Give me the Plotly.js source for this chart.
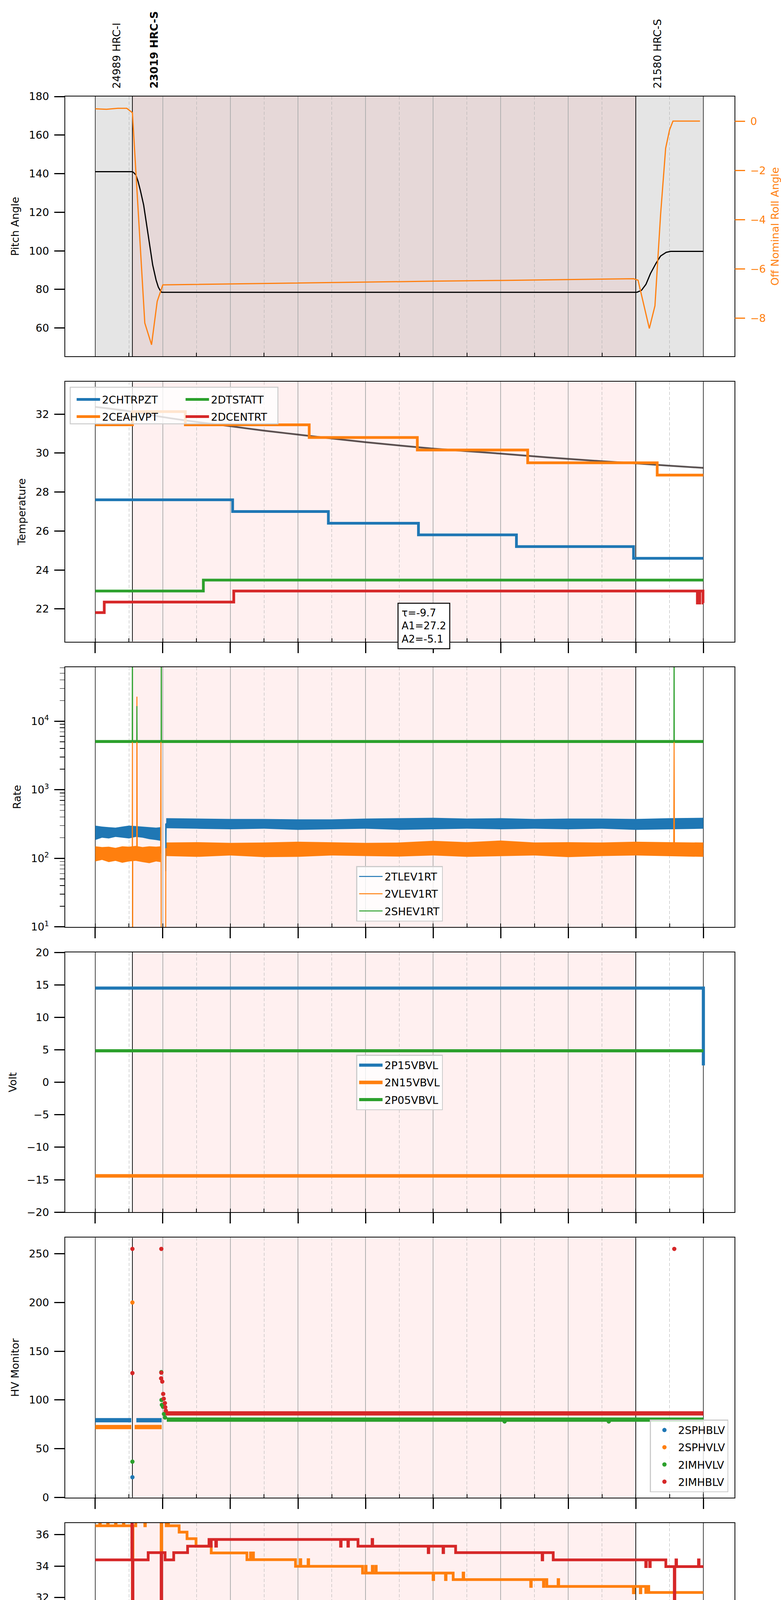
<!DOCTYPE html>
<html><head><meta charset="utf-8">
<script src="https://cdn.plot.ly/plotly-3.0.1.min.js"></script>
<style>html,body{margin:0;padding:0;background:#fff}</style>
</head><body>
<div id="chart" style="width:2000px;height:5400px"></div>
<script>
// ---------------- DATA ----------------
const DAY = '2021-04-05 ';
const hourRange = ['04:33:20', '14:27:40'];
const halfHourTicks = ['05:30','06:30','07:30','08:30','09:30','10:30','11:30','12:30','13:30'];
const halfHourText = '30';

// observations
const obsStart = ['05:00', '05:33', '13:00'];
const obsStop  = ['05:33', '13:00', '14:00'];
const obsLabel = ['24989 HRC-I', '<b>23019 HRC-S</b>', '21580 HRC-S'];
const obsFocus = [false, true, false];

// panel 1: pitch (left) & off nominal roll (right)
const pitch = [['05:00',141],['05:33',141],['05:34',140.6],['05:36',139.4],['05:38',136],['05:40',131.5],['05:43',123.7],['05:45',116],['05:47',108.2],['05:49',100.5],['05:51',92.7],['05:54',84.9],['05:56',81.2],['05:57:30',79.6],['05:59',78.5],['13:01',78.5],['13:05',79.5],['13:09',82.6],['13:13',88.2],['13:18',93.6],['13:22',97.3],['13:27',99.2],['13:31',99.7],['14:00',99.7]];
const roll = [['05:00',0.5],['05:10',0.48],['05:20',0.52],['05:28',0.52],['05:33',0.34],['05:44',-8.2],['05:50',-9.08],['05:55',-7.32],['06:00',-6.65],['07:00',-6.61],['08:00',-6.58],['09:00',-6.54],['10:00',-6.5],['11:00',-6.47],['12:00',-6.43],['12:58',-6.4],['13:02',-6.46],['13:12',-8.42],['13:17',-7.5],['13:22',-3.8],['13:26:30',-1.1],['13:30',-0.35],['13:33',0.0],['13:57',0.0]];

// panel 2: temperature
const fitCurve = [['05:00',32.37],['05:30',32.15],['06:00',31.85],['06:30',31.6],['07:00',31.38],['07:30',31.15],['08:00',30.95],['08:30',30.75],['09:00',30.56],['09:30',30.39],['10:00',30.23],['10:30',30.1],['11:00',29.97],['11:30',29.83],['12:00',29.7],['12:30',29.58],['13:00',29.47],['13:30',29.35],['14:00',29.24]];
const fitText = 'τ=-9.7<br>A1=27.2<br>A2=-5.1';
const chtrpzt = [['05:00',27.6],['07:02',27.0],['08:27',26.4],['09:47',25.8],['11:14',25.2],['12:58',24.6],['14:00',24.6]];
const ceahvpt = [['05:00',31.45],['05:33',32.13],['06:20',31.45],['08:10',30.8],['09:46',30.16],['11:24',29.5],['13:19',28.87],['14:00',28.87]];
const dtstatt = [['05:00',22.92],['06:36',23.48],['14:00',23.48]];
const dcentrt = [['05:00',21.81],['05:08',22.35],['07:03',22.92],['13:54:40',22.3],['13:56:50',22.92],['13:59:40',22.3],['14:00',22.3]];

// panel 3: rates (noise band envelopes [time, low, high] + centre line with spikes)
const tlevBandA = [['05:00',185,300],['05:06',200,290],['05:12',195,285],['05:18',205,280],['05:24',200,290],['05:30',195,300],['05:36',205,295],['05:42',200,290],['05:48',190,285],['05:54',185,280],['05:58',180,285]];
const tlevBandB = [['06:03',275,385],['06:30',270,380],['07:00',265,375],['07:30',270,375],['08:00',260,370],['08:30',265,370],['09:00',270,380],['09:30',260,385],['10:00',265,390],['10:30',270,380],['11:00',265,385],['11:30',270,375],['12:00',265,380],['12:30',270,380],['13:00',260,375],['13:30',265,385],['14:00',270,390]];
const vlevBandA = [['05:00',90,150],['05:06',95,146],['05:12',88,148],['05:18',92,142],['05:24',86,150],['05:30',90,148],['05:36',92,152],['05:42',88,146],['05:48',85,150],['05:54',90,148],['05:58',88,150]];
const vlevBandB = [['06:03',108,170],['06:30',105,172],['07:00',110,168],['07:30',104,170],['08:00',105,175],['08:30',110,172],['09:00',108,168],['09:30',106,170],['10:00',110,180],['10:30',105,172],['11:00',108,182],['11:30',110,170],['12:00',104,172],['12:30',108,170],['13:00',110,175],['13:30',107,172],['14:00',105,170]];
const shevBand = [['05:00',4800,5300],['07:00',4800,5300],['09:00',4800,5300],['11:00',4800,5300],['13:00',4800,5300],['14:00',4800,5300]];
const tlev1rt = [['05:00',235],['05:57:50',235],['05:58:10',190],['05:58:20',null],['06:02:30',320],['06:02:40',65],['06:03:00',320],['14:00',320]];
const vlev1rt = [['05:00',120],['05:32:50',120],['05:33:00',5000],['05:33:10',1],['05:33:20',120],['05:36:50',120],['05:37:00',22700],['05:37:20',120],['05:58:00',120],['05:58:20',5000],['05:58:40',1],['06:02:30',1],['06:02:40',138],['13:33:40',138],['13:34:00',5000],['13:34:20',138],['14:00',138]];
const shev1rt = [['05:00',5050],['05:32:50',5050],['05:33:00',1e6],['05:33:10',5050],['05:36:50',5050],['05:37:00',16600],['05:37:10',5050],['05:58:30',5050],['05:58:40',1e6],['05:58:50',5050],['13:33:50',5050],['13:34:00',1e6],['13:34:10',5050],['14:00',5050]];

// panel 4: volts
const p15vbvl = [['05:00',14.5],['13:59:40',14.5],['14:00',2.6]];
const n15vbvl = [['05:00',-14.4],['14:00',-14.4]];
const p05vbvl = [['05:00',4.85],['14:00',4.85]];

// panel 5: HV monitor (continuous runs + individual points)
const sphblvRun = [['05:00',79.3],['05:32',79.3],[null,null],['05:36:30',79.3],['05:59',79.3]];
const sphvlvRun = [['05:00',72.3],['05:32',72.3],[null,null],['05:35',72.3],['05:59',72.3]];
const imhvlvRun = [['06:03:30',79.9],['14:00',79.9]];
const imhblvRun = [['06:02:30',86.3],['14:00',86.3]];
const sphblvPts = [['05:33',20.8]];
const sphvlvPts = [['05:33',200]];
const imhvlvPts = [['05:33',36.8],['05:58:40',128.6],['05:58:50',100],['05:59:10',95],['06:00:10',93],['06:01:00',85.7],['06:02:00',82],['11:03:30',78],['12:36:00',78]];
const imhblvPts = [['05:33',254.9],['05:33',127.6],['05:58:40',254.9],['05:58:40',128],['05:58:30',122.2],['05:59:30',118.9],['06:00:20',106.2],['06:00:50',101.3],['06:01:50',96.8],['06:02:10',92.6],['06:02:40',89],['13:34:10',254.9]];

// panel 6: detector temperatures
const spinatm = [['05:00',21.7],['14:00',21.7]];
const sphvatm = [['05:00',36.57],['05:04',37],['05:04:30',36.57],['05:11',37],['05:11:30',36.57],['05:18',37],['05:18:30',36.57],['05:25',37],['05:25:30',36.57],['05:33',10],['05:33:30',36.57],['05:36',37],['05:44',36.57],['05:44:30',37],['05:58:30',34.95],['05:59',37],['06:03',36.57],['06:03:30',37],['06:05',36.57],['06:14:30',36.17],['06:21:30',35.75],['06:29:30',35.27],['06:43',34.84],['07:14:40',34.41],['07:17:50',34.84],['07:18:20',34.41],['07:20',34.84],['07:20:30',34.41],['07:57:50',33.99],['08:02',34.41],['08:02:30',33.99],['08:09',34.41],['08:09:30',33.99],['08:57:20',33.56],['09:00',33.99],['09:00:30',33.56],['09:06',33.99],['09:06:30',33.56],['09:09',33.99],['09:09:30',33.56],['10:00',33.14],['10:00:30',33.56],['10:11',33.14],['10:11:30',33.56],['10:17:50',33.14],['10:26:40',33.56],['10:27:10',33.14],['11:26:40',32.71],['11:27:10',33.14],['11:38',32.71],['11:38:30',33.14],['11:41',32.71],['11:51',33.14],['11:51:30',32.71],['12:57:50',32.3],['12:58:20',32.71],['13:04',32.3],['13:04:30',32.71],['13:08:50',32.32],['13:11',32.71],['13:11:30',32.32],['14:00',32.32]];
const iminatm = [['05:00',22.4],['06:33:20',23.15],['06:40:30',22.4],['06:41:30',23.15],['14:00',23.15]];
const imhvatm = [['05:00',34.4],['05:32:30',40],['05:33',10],['05:33:30',34.4],['05:47',34.86],['05:58:30',10],['05:59',34.86],['06:02',34.4],['06:09:40',34.86],['06:22',35.27],['06:41',35.7],['06:42',35.27],['06:43',35.7],['06:47',35.27],['06:47:40',35.7],['08:37:50',35.27],['08:38:20',35.7],['08:44:20',35.27],['08:44:50',35.7],['08:53:20',35.27],['09:05:50',35.7],['09:06:20',35.27],['09:55:40',34.86],['09:56:10',35.27],['10:08:50',34.86],['10:09:20',35.27],['10:20',34.86],['11:36:50',34.4],['11:37:20',34.86],['11:46:40',34.4],['13:08:50',33.97],['13:09:20',34.4],['13:12:20',33.97],['13:12:50',34.4],['13:26:40',33.97],['13:34:10',10],['13:34:40',33.97],['13:35:40',34.4],['13:36:10',33.97],['13:55:40',34.4],['13:56:10',33.97],['14:00',33.97]];

// panel 7: FEA temperatures
const fhtrmzt = [['05:00',25.8],['06:31',26.39],['06:33:20',25.8],['06:34',26.39],['06:35:40',25.8],['06:36:20',26.39],['06:37:50',25.8],['06:38:30',26.39],['06:41:20',25.8],['06:41:50',26.39],['06:47:40',25.8],['06:48:10',26.39],['06:55:40',25.8],['06:56:10',26.39],['07:16:50',25.8],['07:17:20',26.39],['07:56:20',25.8],['07:56:50',26.39],['08:06:40',25.8],['08:07:10',26.39],['08:17',25.8],['08:18',26.39],['08:19',25.8],['08:20',26.39],['08:21',25.8],['08:22',26.39],['08:23:30',25.8],['08:24:30',26.39],['08:26',25.8],['08:27',26.39],['08:28',25.8],['08:29',26.39],['08:30:30',25.8],['08:31:30',26.39],['08:34:10',25.8],['14:00',25.8]];
const fradpyt = [['05:00',21.28],['05:45:50',21.82],['07:57:50',21.25],['13:29:50',20.73],['13:43:10',20.21],['14:00',20.21]];
const fepratm = [['05:00',26.97],['05:33',35],['05:33:20',15],['05:33:40',26.97],['05:58:40',15],['05:59',26.97],['06:37:50',27.78],['06:39',26.97],['06:40',27.78],['06:43',26.97],['06:44',27.78],['06:52:20',26.97],['06:52:50',27.78],['06:57:50',26.97],['06:58:20',27.78],['08:36',26.97],['08:36:30',27.78],['09:47:40',26.97],['09:48:10',27.78],['10:02',26.97],['10:03',27.78],['10:05',26.97],['10:07',27.78],['10:09',26.97],['10:11',27.78],['10:13',26.97],['10:15',27.78],['10:17',26.97],['10:19',27.78],['10:21',26.97],['10:23',27.78],['10:26:40',26.97],['13:34:10',15],['13:34:30',26.97],['14:00',26.97]];
const fe00atm = [['05:00',24.63],['05:00:50',25.3],['05:01:20',24.63],['05:02:30',24.96],['05:26:40',25.66],['05:27:10',25.3],['05:27:40',24.96],['05:33:20',15],['05:33:50',24.96],['05:58:40',15],['05:59:10',25.28],['06:06:40',24.63],['06:07:10',25.28],['06:13:20',24.25],['06:13:50',25.28],['06:14:40',25.66],['06:15:10',25.28],['06:52:20',24.25],['06:52:50',25.28],['06:54:40',24.96],['06:55:10',25.28],['07:00',24.96],['07:00:30',25.28],['07:05:20',24.63],['07:05:50',25.28],['07:23:40',24.63],['07:24:10',25.28],['07:36:50',25.66],['07:37:20',25.28],['07:55:40',24.96],['07:56:10',25.28],['08:08:50',24.63],['08:09:20',25.28],['08:27:40',24.96],['08:28:10',25.28],['08:31:10',24.96],['08:31:40',25.28],['08:50:10',25.66],['08:50:40',25.28],['08:53:50',26.35],['08:54:20',25.28],['08:56:20',24.96],['08:56:50',25.28],['09:11:10',25.66],['09:11:40',25.28],['09:15:40',24.96],['09:16:10',25.28],['09:31:10',24.96],['09:31:40',25.28],['09:42:40',24.63],['09:43:10',25.28],['09:51:40',26.0],['09:52:10',25.28],['10:05:20',25.66],['10:05:50',25.28],['10:16:20',26.0],['10:16:50',24.96],['10:18:00',25.28],['10:20',24.96],['10:20:30',25.28],['10:30:40',26.0],['10:31:10',25.28],['10:43:10',23.93],['10:43:40',25.28],['10:45:50',24.96],['10:46:40',25.28],['10:47:30',26.0],['10:48',24.96],['10:49',25.28],['10:50:30',24.96],['10:52',25.28],['10:53:30',24.96],['10:55',25.28],['10:56:30',24.96],['10:58:10',25.66],['10:58:40',24.96],['11:00',25.28],['11:01:30',24.96],['11:03',25.28],['11:04:30',24.96],['11:06',25.28],['11:07:30',24.96],['11:09',25.28],['11:11',24.96],['11:14:10',25.28],['11:14:40',24.96],['11:17:50',24.25],['11:18:20',24.96],['11:23:00',26.0],['11:23:30',23.93],['11:24:00',24.96],['11:43:10',26.0],['11:43:40',24.96],['11:51:10',25.28],['11:51:40',24.96],['12:03:10',25.28],['12:03:40',24.96],['12:12:20',24.25],['12:12:50',24.96],['12:14:10',25.28],['12:14:40',24.96],['12:30:10',26.0],['12:30:40',24.96],['12:35:10',24.63],['12:35:40',24.96],['12:59:00',25.28],['12:59:30',24.63],['13:00:00',24.96],['13:03:40',24.63],['13:04:10',24.96],['13:11:40',25.66],['13:12:10',24.96],['13:31:00',26.0],['13:31:30',24.25],['13:32:00',24.96],['13:34:10',15],['13:34:40',24.96],['13:41:20',25.66],['13:41:50',24.25],['13:42:20',24.96],['13:45:20',24.25],['13:45:50',24.96],['13:50:10',25.28],['13:50:40',24.96],['13:57:50',24.63],['14:00',24.63]];

// ---------------- HELPERS ----------------
const C = {blue:'#1f77b4', orange:'#ff7f0e', green:'#2ca02c', red:'#d62728'};
const tx = s => (s === null ? null : DAY + s);
const X = p => p.map(d => tx(d[0]));
const Y = p => p.map(d => d[1]);
const W = 2000, H = 5400, ML = 166.7, MR = 119, MT = 246.6, MB = 106.2;
const PW = W - ML - MR, PH = H - MT - MB;
const STEP = 730.4, PANEL_H = 665.2;
const dom = k => [Math.max(0, 1 - (k*STEP + PANEL_H)/PH), 1 - k*STEP/PH];
const py = p => 1 - (p - MT)/PH;
const pxX = p => (p - ML)/PW;
const ax = k => (k === 0 ? '' : String(k+1));

const yTitles = ['Pitch Angle','Temperature','Rate','Volt','HV Monitor','Detector Temp','FEA Temp'];
const yRanges = [[45.3,180],[20.32,33.66],[1,4.788],[-20,20],[0,266.4],[20.19,36.75],[19.77,29.28]];
const yDticks = [20, 2, null, 5, 50, 2, 2];

function step(p, color, name, k, legend, extra) {
  return Object.assign({type:'scatter', mode:'lines', x:X(p), y:Y(p), name:name,
    line:{color:color, width:7, shape:'hv'}, xaxis:'x'+ax(k), yaxis:'y'+ax(k),
    legend:legend, legendgroup:name, hoverinfo:'skip'}, extra || {});
}
function band(b, color, k) {
  const xs = b.map(d => tx(d[0]));
  const lo = b.map(d => d[1]), hi = b.map(d => d[2]);
  return {type:'scatter', mode:'lines', x:xs.concat(xs.slice().reverse()), y:hi.concat(lo.slice().reverse()),
    fill:'toself', fillcolor:color, line:{width:0, color:color}, xaxis:'x'+ax(k), yaxis:'y'+ax(k),
    showlegend:false, hoverinfo:'skip'};
}

// ---------------- TRACES ----------------
const data = [];
// observation boundary lines (first, so they sit under the data)
const bounds = obsStart.concat([obsStop[obsStop.length-1]]);
for (let k = 0; k < 7; k++) {
  const r = k === 2 ? yRanges[k].map(v => Math.pow(10, v)) : yRanges[k];
  bounds.forEach((b, i) => {
    const strong = (i === 1 || i === 2);
    data.push({type:'scatter', mode:'lines', x:[tx(b), tx(b)], y:[r[0], r[1]],
      line:{color:'black', width: strong ? 1.8 : 1.2}, xaxis:'x'+ax(k), yaxis:'y'+ax(k),
      showlegend:false, hoverinfo:'skip'});
  });
}
// panel 1
data.push({type:'scatter', mode:'lines', x:X(pitch), y:Y(pitch), line:{color:'black', width:3}, xaxis:'x', yaxis:'y', showlegend:false, hoverinfo:'skip'});
data.push({type:'scatter', mode:'lines', x:X(roll), y:Y(roll), line:{color:C.orange, width:3}, xaxis:'x', yaxis:'y8', showlegend:false, hoverinfo:'skip'});
// panel 2
data.push({type:'scatter', mode:'lines', x:X(fitCurve), y:Y(fitCurve), line:{color:'rgba(50,40,40,0.8)', width:4.5, shape:'spline'}, xaxis:'x2', yaxis:'y2', showlegend:false, hoverinfo:'skip'});
data.push(step(chtrpzt, C.blue, '2CHTRPZT', 1, 'legend'));
data.push(step(ceahvpt, C.orange, '2CEAHVPT', 1, 'legend'));
data.push(step(dtstatt, C.green, '2DTSTATT', 1, 'legend2'));
data.push(step(dcentrt, C.red, '2DCENTRT', 1, 'legend2'));
// panel 3
[[tlevBandA, C.blue],[tlevBandB, C.blue],[vlevBandA, C.orange],[vlevBandB, C.orange],[shevBand, C.green]].forEach(b => data.push(band(b[0], b[1], 2)));
[[tlev1rt, C.blue, '2TLEV1RT'],[vlev1rt, C.orange, '2VLEV1RT'],[shev1rt, C.green, '2SHEV1RT']].forEach(s => {
  data.push({type:'scatter', mode:'lines', x:X(s[0]), y:Y(s[0]), name:s[2], line:{color:s[1], width:2.5}, connectgaps:false,
    xaxis:'x3', yaxis:'y3', legend:'legend3', legendgroup:s[2], hoverinfo:'skip'});
});
// panel 4
data.push(step(p15vbvl, C.blue, '2P15VBVL', 3, 'legend4', {line:{color:C.blue, width:8, shape:'hv'}}));
data.push(step(n15vbvl, C.orange, '2N15VBVL', 3, 'legend4', {line:{color:C.orange, width:9, shape:'hv'}}));
data.push(step(p05vbvl, C.green, '2P05VBVL', 3, 'legend4', {line:{color:C.green, width:8, shape:'hv'}}));
// panel 5
[[sphblvRun, sphblvPts, C.blue, '2SPHBLV'],[sphvlvRun, sphvlvPts, C.orange, '2SPHVLV'],[imhvlvRun, imhvlvPts, C.green, '2IMHVLV'],[imhblvRun, imhblvPts, C.red, '2IMHBLV']].forEach(s => {
  data.push({type:'scatter', mode:'lines', x:X(s[0]), y:Y(s[0]), line:{color:s[2], width:11}, connectgaps:false,
    xaxis:'x5', yaxis:'y5', showlegend:false, legendgroup:s[3], hoverinfo:'skip'});
  data.push({type:'scatter', mode:'markers', x:X(s[1]), y:Y(s[1]), name:s[3], marker:{color:s[2], size:11},
    xaxis:'x5', yaxis:'y5', legend:'legend5', legendgroup:s[3], hoverinfo:'skip'});
});
// panel 6
data.push(step(spinatm, C.blue, '2SPINATM', 5, 'legend6'));
data.push(step(sphvatm, C.orange, '2SPHVATM', 5, 'legend6'));
data.push(step(iminatm, C.green, '2IMINATM', 5, 'legend6'));
data.push(step(imhvatm, C.red, '2IMHVATM', 5, 'legend6'));
// panel 7
data.push(step(fhtrmzt, C.blue, '2FHTRMZT', 6, 'legend7'));
data.push(step(fradpyt, C.orange, '2FRADPYT', 6, 'legend7'));
data.push(step(fepratm, C.green, '2FEPRATM', 6, 'legend7'));
data.push(step(fe00atm, C.red, '2FE00ATM', 6, 'legend7'));

// ---------------- LAYOUT ----------------
const layout = {
  width:W, height:H, margin:{l:ML, r:MR, t:MT, b:MB, autoexpand:false},
  paper_bgcolor:'white', plot_bgcolor:'white',
  font:{family:'DejaVu Sans', size:27, color:'black'},
  showlegend:true, shapes:[], annotations:[]
};

for (let k = 0; k < 7; k++) {
  const xa = {
    type:'date', range:hourRange.map(tx), domain:[0,1], anchor:'y'+ax(k),
    showgrid:true, gridcolor:'#b0b0b0', gridwidth:1.5,
    tick0:DAY+'00:00', dtick:3600000, tickformat:'%Hh',
    ticks: k === 0 ? '' : 'outside', ticklen:27, tickwidth:3, tickcolor:'black',
    showticklabels: k === 6, tickfont:{size:27}, ticklabelstandoff:6,
    showline:true, mirror:true, linecolor:'black', linewidth:2, zeroline:false,
    minor:{tick0:DAY+'00:00', dtick:1800000, ticks:'inside', ticklen:9, tickwidth:2, tickcolor:'black',
      showgrid:true, gridcolor:'#b0b0b0', gridwidth:1.3, griddash:'8px,5px'}
  };
  if (k > 0) xa.matches = 'x';
  if (k === 6) xa.title = {text:'2021-04-05 (095)', font:{size:27}, standoff:16};
  layout['xaxis'+ax(k)] = xa;

  const ya = {
    domain:dom(k), anchor:'x'+ax(k), range:yRanges[k], showgrid:false, zeroline:false,
    ticks:'outside', ticklen:26, tickwidth:3, tickcolor:'black', tickfont:{size:27}, ticklabelstandoff:8,
    showline:true, mirror:true, linecolor:'black', linewidth:2,
    title:{text:yTitles[k], font:{size:27}, standoff:18}
  };
  if (yDticks[k]) ya.dtick = yDticks[k];
  if (k === 2) {
    ya.type = 'log';
    ya.tickvals = [10,100,1000,10000];
    ya.ticktext = ['10<sup>1</sup>','10<sup>2</sup>','10<sup>3</sup>','10<sup>4</sup>'];
    ya.minor = {dtick:'D1', ticks:'outside', ticklen:12, tickwidth:1.5, tickcolor:'black', showgrid:false};
  }
  layout['yaxis'+ax(k)] = ya;

  // observation shading (paper-height rectangles in each panel)
  const d = dom(k);
  for (let i = 0; i < obsStart.length; i++) {
    let fill = null;
    if (k === 0) fill = obsFocus[i] ? '#e6d8d8' : '#e5e5e5';
    else if (obsFocus[i]) fill = 'rgb(255,240,240)';
    if (fill) layout.shapes.push({type:'rect', xref:'x'+ax(k), yref:'paper', x0:tx(obsStart[i]), x1:tx(obsStop[i]), y0:d[0], y1:d[1],
      fillcolor:fill, line:{width:0}, layer:'below'});
  }
}

// right axis of the top panel
layout.yaxis8 = {overlaying:'y', side:'right', anchor:'x', range:[-9.55,1.0], dtick:2,
  showgrid:false, zeroline:false, showline:false,
  ticks:'outside', ticklen:26, tickwidth:3, tickcolor:C.orange, ticklabelstandoff:8,
  tickfont:{size:27, color:C.orange},
  title:{text:'Off Nominal Roll Angle', font:{size:27, color:C.orange}, standoff:18}};

// half-hour tick labels under the bottom panel
halfHourTicks.forEach(h => {
  layout.annotations.push({xref:'x7', yref:'paper', x:tx(h), y:py(5306), xanchor:'center', yanchor:'middle',
    text:halfHourText, showarrow:false, font:{size:18, color:'black'}});
});

// observation labels
obsStart.forEach((s, i) => {
  layout.annotations.push({xref:'x', yref:'paper', x:tx(s), y:py(228), xshift:55,
    xanchor:'center', yanchor:'bottom', textangle:-90, text:obsLabel[i], showarrow:false,
    font:{size:27, color:'black'}});
});
// fit parameters box
layout.annotations.push({xref:'paper', yref:'paper', x:pxX(1085.5), y:py(1602), xanchor:'center', yanchor:'middle',
  text:fitText, align:'left', showarrow:false, font:{size:26}, bgcolor:'white',
  bordercolor:'black', borderwidth:2.5, borderpad:8});

// legends
const legBase = {font:{size:27}, bgcolor:'rgba(255,255,255,0.8)', bordercolor:'#cccccc', borderwidth:2.5,
  itemwidth:60, tracegroupgap:6, traceorder:'grouped'};
layout.legend  = Object.assign({}, legBase, {x:pxX(191), y:py(998), xanchor:'left', yanchor:'top', bgcolor:'rgba(0,0,0,0)', borderwidth:0});
layout.legend2 = Object.assign({}, legBase, {x:pxX(470), y:py(998), xanchor:'left', yanchor:'top', bgcolor:'rgba(0,0,0,0)', borderwidth:0});
layout.legend3 = Object.assign({}, legBase, {x:pxX(1023), y:py(2359), xanchor:'center', yanchor:'bottom'});
layout.legend4 = Object.assign({}, legBase, {x:pxX(1023), y:py(2771), xanchor:'center', yanchor:'middle'});
layout.legend5 = Object.assign({}, legBase, {x:pxX(1865), y:py(3820), xanchor:'right', yanchor:'bottom'});
layout.legend6 = Object.assign({}, legBase, {x:pxX(1023), y:py(4232), xanchor:'center', yanchor:'middle'});
layout.legend7 = Object.assign({}, legBase, {x:pxX(179.5), y:py(5280.6), xanchor:'left', yanchor:'bottom'});
// shared frame for the two-column legend of panel 2
layout.shapes.push({type:'rect', xref:'paper', yref:'paper', x0:pxX(179.5), x1:pxX(711.5), y0:py(1084.6), y1:py(990.9),
  fillcolor:'rgba(255,255,255,0.8)', line:{color:'#cccccc', width:2.5}, layer:'above'});

Plotly.newPlot('chart', data, layout, {displayModeBar:false, staticPlot:true});
</script>
</body></html>
